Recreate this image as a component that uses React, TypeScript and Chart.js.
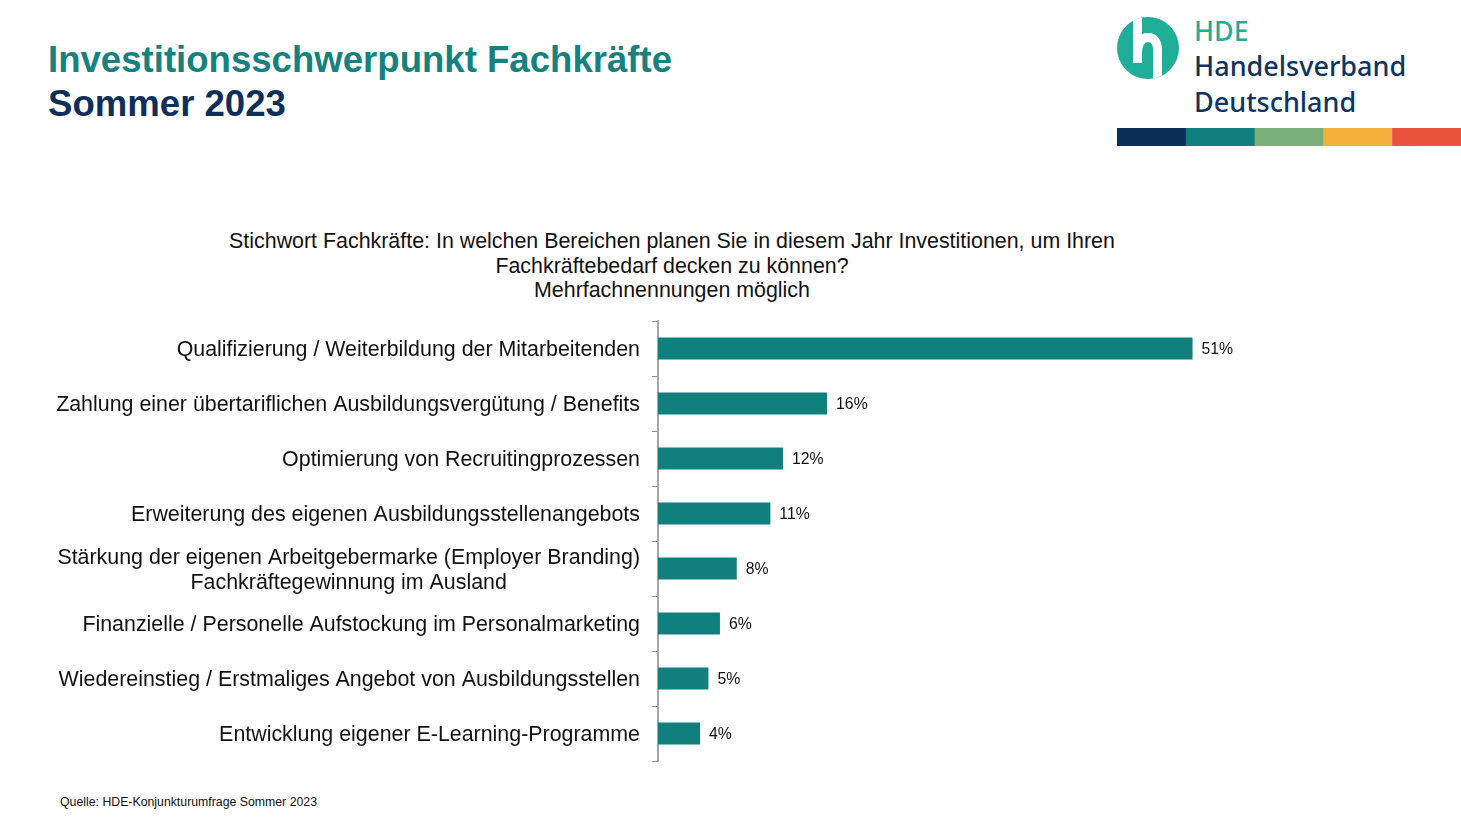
import React, { useEffect, useRef } from "react";
import { Chart, registerables } from "chart.js";

Chart.register(...registerables);

// ---- data ----
const categories: (string | string[])[] = [
  "Qualifizierung / Weiterbildung der Mitarbeitenden",
  "Zahlung einer übertariflichen Ausbildungsvergütung / Benefits",
  "Optimierung von Recruitingprozessen",
  "Erweiterung des eigenen Ausbildungsstellenangebots",
  ["Stärkung der eigenen Arbeitgebermarke (Employer Branding)", "Fachkräftegewinnung im Ausland"],
  "Finanzielle / Personelle Aufstockung im Personalmarketing",
  "Wiedereinstieg / Erstmaliges Angebot von Ausbildungsstellen",
  "Entwicklung eigener E-Learning-Programme",
];
const values = [50.9, 16.1, 11.9, 10.7, 7.5, 5.9, 4.8, 4.0];
const valueLabels = ["51%", "16%", "12%", "11%", "8%", "6%", "5%", "4%"];

const titleLine1 = "Investitionsschwerpunkt Fachkräfte";
const titleLine2 = "Sommer 2023";
const questionLines = [
  "Stichwort Fachkräfte: In welchen Bereichen planen Sie in diesem Jahr Investitionen, um Ihren",
  "Fachkräftebedarf decken zu können?",
  "Mehrfachnennungen möglich",
];
const sourceText = "Quelle: HDE-Konjunkturumfrage Sommer 2023";
const logoLines = ["HDE", "Handelsverband", "Deutschland"];
const stripeColors = ["#0b2f59", "#10807e", "#7bb07a", "#f5b03c", "#e8533d"];

const FONT = '"Liberation Sans", Arial, Helvetica, sans-serif';
const BAR_COLOR = "#10807e";

const labelPlugin = {
  id: "catLabels",
  afterDraw(chart: any) {
    const ctx = chart.ctx;
    const yScale = chart.scales.y;
    const right = chart.chartArea.left - 18;
    ctx.save();
    ctx.font = `21.4px ${FONT}`;
    ctx.fillStyle = "#111111";
    ctx.textBaseline = "middle";
    ctx.textAlign = "center";
    const lineH = 25;
    categories.forEach((lab, i) => {
      const lines = Array.isArray(lab) ? lab : [lab];
      const cy = yScale.getPixelForValue(i) + 2;
      const maxW = Math.max(...lines.map((l) => ctx.measureText(l).width));
      const cx = right - maxW / 2;
      lines.forEach((l, j) => {
        ctx.fillText(l, cx, cy + (j - (lines.length - 1) / 2) * lineH);
      });
    });
    // value labels
    ctx.font = `15.8px ${FONT}`;
    ctx.textAlign = "left";
    const meta = chart.getDatasetMeta(0);
    meta.data.forEach((el: any, i: number) => {
      ctx.fillText(valueLabels[i], el.x + 9, el.y + 1.5);
    });
    ctx.restore();
  },
};

function BarChart() {
  const ref = useRef<HTMLCanvasElement | null>(null);
  useEffect(() => {
    if (!ref.current) return;
    const chart = new Chart(ref.current, {
      type: "bar",
      data: {
        labels: categories as any,
        datasets: [
          {
            data: values,
            backgroundColor: BAR_COLOR,
            borderWidth: 0,
            barPercentage: 0.4,
            categoryPercentage: 1,
          },
        ],
      },
      options: {
        indexAxis: "y",
        animation: false,
        responsive: false,
        maintainAspectRatio: false,
        layout: { padding: { top: 11, bottom: 19, left: 0, right: 175 } },
        plugins: {
          legend: { display: false },
          tooltip: { enabled: false },
          title: { display: false },
        },
        scales: {
          x: { display: false, min: 0, max: 59.8 },
          y: {
            grid: {
              drawOnChartArea: false,
              drawTicks: true,
              tickLength: 6,
              color: "#8c8c8c",
              lineWidth: 1,
            },
            border: { display: true, color: "#a6a6a6", width: 2 },
            ticks: { display: false },
            afterFit: (s: any) => {
              s.width = 658;
            },
          },
        },
      } as any,
      plugins: [labelPlugin],
    });
    return () => chart.destroy();
  }, []);
  return (
    <canvas
      ref={ref}
      width={1461}
      height={470}
      style={{ position: "absolute", left: 0, top: 310, width: 1461, height: 470 }}
    />
  );
}

export default function App() {
  const stripeW = (1461 - 1117) / stripeColors.length;
  return (
    <div
      style={{
        position: "absolute",
        left: 0,
        top: 0,
        width: 1461,
        height: 821,
        background: "#ffffff",
        overflow: "hidden",
      }}
    >
      <svg
        width={1461}
        height={821}
        style={{ position: "absolute", left: 0, top: 0 }}
      >
        <defs>
          <clipPath id="logoClip">
            <circle cx={1148} cy={48} r={31} />
          </clipPath>
        </defs>
        <text x={48} y={72} fontFamily={FONT} fontWeight="bold" fontSize={36.6} fill="#15827f">
          {titleLine1}
        </text>
        <text x={48} y={116} fontFamily={FONT} fontWeight="bold" fontSize={36.6} fill="#0e2f5b">
          {titleLine2}
        </text>
        {/* logo */}
        <circle cx={1148} cy={48} r={31} fill="#1fae98" />
        <g clipPath="url(#logoClip)">
          <path d="M1137.5 10 V63" stroke="#ffffff" strokeWidth={9} fill="none" />
          <path
            d="M1137.5 54 C1137.5 42 1142 37.5 1148 37.5 C1154 37.5 1157.5 42 1157.5 50 V85"
            stroke="#ffffff"
            strokeWidth={9}
            fill="none"
          />
        </g>
        <text x={1194} y={41} fontFamily='"Noto Sans", sans-serif' fontWeight={500} fontSize={26.8} fill="#1fae98">
          {logoLines[0]}
        </text>
        <text x={1194} y={76} fontFamily='"Noto Sans", sans-serif' fontWeight={500} fontSize={27} fill="#0d3562">
          {logoLines[1]}
        </text>
        <text x={1194} y={112} fontFamily='"Noto Sans", sans-serif' fontWeight={500} fontSize={27} fill="#0d3562">
          {logoLines[2]}
        </text>
        {stripeColors.map((c, i) => (
          <rect key={c} x={1117 + i * stripeW} y={128} width={stripeW + 0.5} height={18} fill={c} />
        ))}
        {questionLines.map((l, i) => (
          <text
            key={i}
            x={672}
            y={248 + i * 24.5}
            textAnchor="middle"
            fontFamily={FONT}
            fontSize={21.4}
            fill="#111111"
          >
            {l}
          </text>
        ))}
        <text x={60} y={806} fontFamily={FONT} fontSize={12.3} fill="#111111">
          {sourceText}
        </text>
      </svg>
      <BarChart />
    </div>
  );
}
